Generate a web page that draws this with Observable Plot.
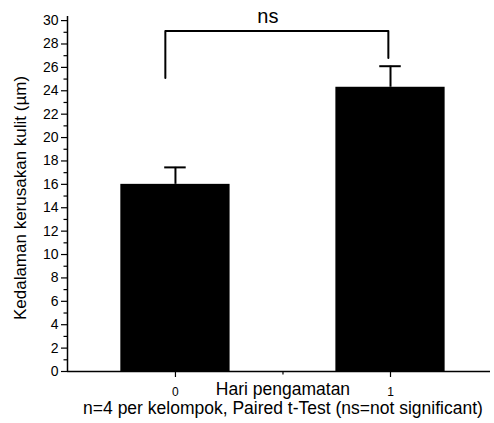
<!DOCTYPE html>
<html>
<head>
<meta charset="utf-8">
<script src="https://cdn.jsdelivr.net/npm/d3@7"></script>
<script src="https://cdn.jsdelivr.net/npm/@observablehq/plot@0.6"></script>
<style>
  html, body { margin: 0; padding: 0; background: #fff; }
  #chart svg { display: block; font-family: "Liberation Sans", Arial, sans-serif; }
</style>
</head>
<body>
<div id="chart"></div>
<script>
const days = [0, 1];
const means = [16.0, 24.3];
const errors = [1.45, 1.8];
const yTicks = [0, 2, 4, 6, 8, 10, 12, 14, 16, 18, 20, 22, 24, 26, 28, 30];
const yMinor = [1, 3, 5, 7, 9, 11, 13, 15, 17, 19, 21, 23, 25, 27, 29];
const xTicks = [0, 1];
const xMinor = [0.5];
const bracketX = [-0.047, -0.047, 0.99, 0.99];
const bracketY = [25.1, 29.1, 29.1, 26.8];
const sigLabel = "ns";
const yLabel = "Kedalaman kerusakan kulit (µm)";
const xLabel = "Hari pengamatan";
const caption = "n=4 per kelompok, Paired t-Test (ns=not significant)";

const data = days.map((d, i) => ({day: d, mean: means[i], err: errors[i]}));
const bracket = bracketX.map((x, i) => ({x, y: bracketY[i]}));
const xDomain = [-0.502, 1.465];
const halfBar = 0.254;
const halfCap = 0.05;

const chart = Plot.plot({
  width: 494,
  height: 423,
  marginLeft: 67,
  marginRight: 4,
  marginTop: 16,
  marginBottom: 52,
  style: {fontFamily: "Liberation Sans, Arial, sans-serif", background: "#fff"},
  x: {domain: xDomain, axis: null},
  y: {domain: [0, 30.35], axis: null},
  marks: [
    Plot.rectY(data, {x1: d => d.day - halfBar, x2: d => d.day + halfBar, y1: 0, y2: "mean", fill: "#000"}),
    Plot.ruleX(data, {x: "day", y1: "mean", y2: d => d.mean + d.err, stroke: "#000", strokeWidth: 2}),
    Plot.ruleY(data, {y: d => d.mean + d.err, x1: d => d.day - halfCap, x2: d => d.day + halfCap, stroke: "#000", strokeWidth: 2}),
    Plot.line(bracket, {x: "x", y: "y", stroke: "#000", strokeWidth: 2}),
    Plot.text([sigLabel], {x: 0.43, y: 30.3, text: d => d, fontSize: 20, fill: "#000"}),
    // axis lines
    Plot.ruleX([xDomain[0]], {stroke: "#000", strokeWidth: 1.5}),
    Plot.ruleY([0], {stroke: "#000", strokeWidth: 1.5}),
    // y axis ticks
    Plot.axisY(yTicks, {anchor: "left", tickSize: 6, tickPadding: 3, fontSize: 14, label: null, stroke: "#000", strokeWidth: 1.2, color: "#000"}),
    Plot.axisY(yMinor, {anchor: "left", tickSize: 3.5, tickFormat: () => "", label: null, stroke: "#000", strokeWidth: 1.2}),
    // x axis ticks
    Plot.axisX(xTicks, {anchor: "bottom", tickSize: 6, tickPadding: 10, fontSize: 12, tickFormat: d => String(d), label: null, stroke: "#000", strokeWidth: 1.2}),
    Plot.axisX(xMinor, {anchor: "bottom", tickSize: 3.5, tickFormat: () => "", label: null, stroke: "#000", strokeWidth: 1.2}),
    // axis labels
    Plot.text([xLabel], {x: 0.5, frameAnchor: "bottom", dy: 23, text: d => d, fontSize: 17.5, fill: "#000"}),
    Plot.text([caption], {x: 0.5, frameAnchor: "bottom", dy: 42, text: d => d, fontSize: 17.5, fill: "#000"}),
    Plot.text([yLabel], {frameAnchor: "left", dx: -47, dy: 4, rotate: -90, textAnchor: "middle", text: d => d, fontSize: 17, fill: "#000"})
  ]
});
document.getElementById("chart").appendChild(chart);
</script>
</body>
</html>
